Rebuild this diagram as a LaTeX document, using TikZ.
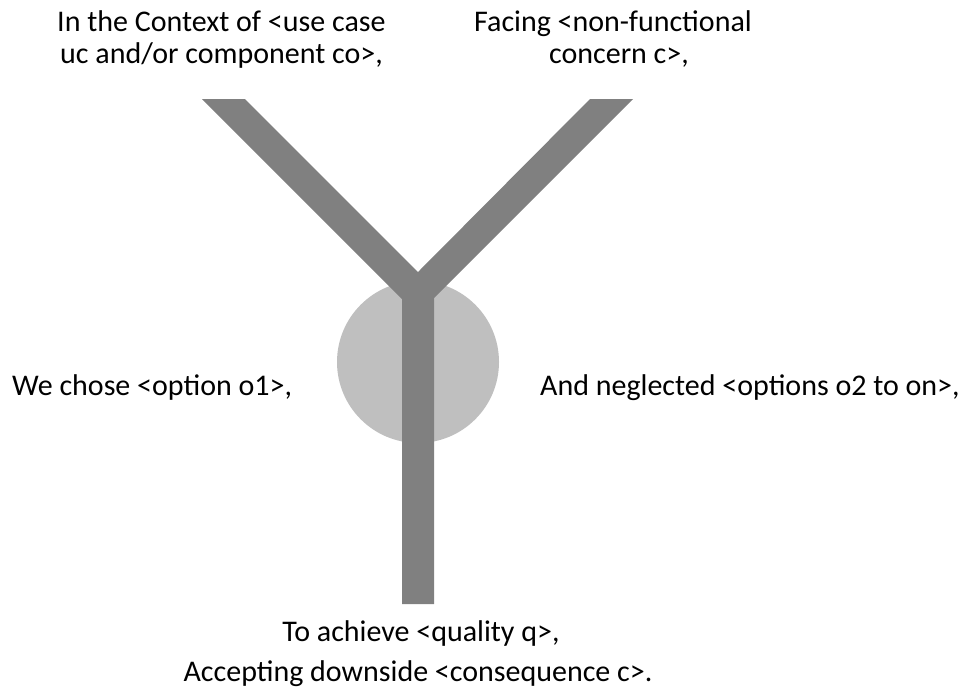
\documentclass[tikz,border=0pt]{standalone}
\usepackage{fontspec}
\setmainfont{Carlito}
\begin{document}
\begin{tikzpicture}[x=1pt,y=-1pt,
  label/.style={inner sep=0pt, font=\fontsize{30}{36}\selectfont, text=black},
  stemfill/.style={fill=black!50},
  discfill/.style={fill=black!25}]
\useasboundingbox (0,0) rectangle (974,697);
% decision disc behind the fork
\fill[discfill] (418,362) circle (81);
% the Y-shaped fork
\fill[stemfill] (202,99) -- (245,99) -- (418,272) -- (590,99) -- (633,99)
  -- (434,298) -- (434,604) -- (402,604) -- (402,299) -- cycle;
% texts
\node[label, anchor=base west] (ctx1) at (57,31) {In the Context of <use case};
\node[label, anchor=base west] (ctx2) at (60,63) {uc and/or component co>,};
\node[label, anchor=base] (fac1) at (613,31) {Facing <non-functional};
\node[label, anchor=base] (fac2) at (619,63) {concern c>,};
\node[label, anchor=base west] (chose) at (12,395) {We chose <option o1>,};
\node[label, anchor=base west] (negl) at (540,395) {And neglected <options o2 to on>,};
\node[label, anchor=base] (ach) at (421,641) {To achieve <quality q>,};
\node[label, anchor=base] (acc) at (418,681) {Accepting downside <consequence c>.};
\end{tikzpicture}
\end{document}
